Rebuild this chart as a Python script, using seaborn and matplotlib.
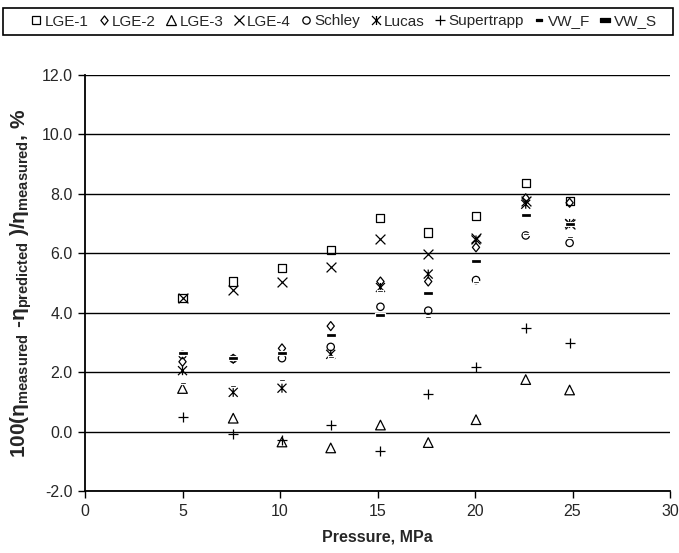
"""
Deviation of predicted viscosity from measured values vs pressure.
"""

import numpy as np
import matplotlib
matplotlib.use('Agg')
import matplotlib.pyplot as plt
from matplotlib.path import Path
from matplotlib.lines import Line2D
from matplotlib.patches import Rectangle
import seaborn as sns

sns.set_style('ticks')
plt.rcParams['font.family'] = ['Liberation Sans', 'DejaVu Sans']
plt.rcParams['mathtext.fontset'] = 'custom'
plt.rcParams['mathtext.rm'] = 'Liberation Sans'
plt.rcParams['mathtext.bf'] = 'Liberation Sans:bold'
plt.rcParams['mathtext.it'] = 'Liberation Sans:italic'

# Data
pressure = [5.0, 7.6, 10.1, 12.6, 15.15, 17.6, 20.05, 22.6, 24.85]
lge1 = [4.5, 5.05, 5.5, 6.1, 7.18, 6.7, 7.24, 8.35, 7.75]
lge2 = [2.35, 2.45, 2.8, 3.55, 5.05, 5.05, 6.2, 7.85, 7.7]
lge3 = [1.45, 0.45, -0.35, -0.55, 0.22, -0.37, 0.4, 1.75, 1.4]
lge4 = [4.5, 4.77, 5.05, 5.55, 6.48, 5.97, 6.5, 7.75, 7.0]
schley = [2.58, 2.45, 2.47, 2.85, 4.2, 4.07, 5.1, 6.6, 6.35]
lucas = [2.05, 1.32, 1.46, 2.6, 4.85, 5.3, 6.45, 7.65, 7.0]
supertrapp = [0.5, -0.08, -0.3, 0.22, -0.64, 1.26, 2.16, 3.5, 2.97]
vw_f = [1.63, 1.53, 1.75, 2.5, 4.74, 3.87, 5.05, 6.65, 6.55]
vw_s = [2.65, 2.47, 2.66, 3.25, 3.93, 4.65, 5.75, 7.3, 7.0]

series_names = ['LGE-1', 'LGE-2', 'LGE-3', 'LGE-4', 'Schley', 'Lucas',
                'Supertrapp', 'VW_F', 'VW_S']
series_values = [lge1, lge2, lge3, lge4, schley, lucas, supertrapp, vw_f, vw_s]

# Custom markers
asterisk = Path([(-1, -1), (1, 1), (-1, 1), (1, -1), (0, -1), (0, 1)],
                [Path.MOVETO, Path.LINETO, Path.MOVETO, Path.LINETO,
                 Path.MOVETO, Path.LINETO])
dash = Path([(-1, -0.33), (1, -0.33), (1, 0.33), (-1, 0.33), (-1, -0.33)],
            [Path.MOVETO, Path.LINETO, Path.LINETO, Path.LINETO, Path.CLOSEPOLY])
diamond = Path([(0, 1), (0.8, 0), (0, -1), (-0.8, 0), (0, 1)],
               [Path.MOVETO, Path.LINETO, Path.LINETO, Path.LINETO, Path.CLOSEPOLY])

# marker, size (points^2 for scatter), open?
STYLES = {
    'LGE-1': ('s', 34, True),
    'LGE-2': (diamond, 42, True),
    'LGE-3': ('^', 48, True),
    'LGE-4': ('x', 50, False),
    'Schley': ('o', 28, True),
    'Lucas': (asterisk, 42, True),
    'Supertrapp': ('+', 55, False),
    'VW_F': (dash, 20, False),
    'VW_S': (dash, 55, False),
}

fig = plt.figure(figsize=(6.79, 5.53), dpi=100)
ax = fig.add_axes([0.1252, 0.1121, 0.8616, 0.7523])

for name, vals in zip(series_names, series_values):
    marker, size, is_open = STYLES[name]
    if is_open:
        sns.scatterplot(x=pressure, y=vals, marker=marker, s=size, ax=ax,
                        facecolor='none', edgecolor='black', linewidth=0.9,
                        zorder=3)
    else:
        sns.scatterplot(x=pressure, y=vals, marker=marker, s=size, ax=ax,
                        color='black', linewidth=0.9, zorder=3)
    coll = ax.collections[-1]
    if is_open:
        coll.set_facecolor('none')
        coll.set_edgecolor('black')

ax.set_xlim(0, 30)
ax.set_ylim(-2, 12)
ax.set_xticks(np.arange(0, 31, 5))
ax.set_yticks(np.arange(-2, 12.1, 2))
ax.set_yticklabels([f'{v:.1f}' for v in np.arange(-2, 12.1, 2)])
ax.yaxis.grid(True, color='black', linewidth=1.0)
ax.set_axisbelow(True)
for side in ['top', 'right']:
    ax.spines[side].set_visible(False)
for side in ['left', 'bottom']:
    ax.spines[side].set_color('black')
    ax.spines[side].set_linewidth(1.3)
ax.tick_params(axis='both', labelsize=11.5, length=5, width=1, color='black',
               pad=4, direction='out')

ax.set_xlabel('Pressure, MPa', fontsize=11.5, fontweight='bold', labelpad=8)
ax.set_ylabel(r'100(η$_{\mathbf{measured}}$ -η$_{\mathbf{predicted}}$ )/η$_{\mathbf{measured}}$, %',
              fontsize=15, fontweight='bold', labelpad=5)

# Legend on top, inside a full-width box
handles = []
for name in series_names:
    marker, size, is_open = STYLES[name]
    ms = np.sqrt(size)
    if is_open:
        h = Line2D([], [], linestyle='', marker=marker, markersize=ms,
                   markerfacecolor='none', markeredgecolor='black',
                   markeredgewidth=0.9)
    else:
        h = Line2D([], [], linestyle='', marker=marker, markersize=ms,
                   color='black', markeredgewidth=0.9)
    handles.append(h)

fig.patches.append(Rectangle((3 / 679, 1 - 35 / 553), 670 / 679, 27 / 553,
                             transform=fig.transFigure, fill=False,
                             edgecolor='black', linewidth=1.2))
fig.legend(handles, series_names, loc='center',
           bbox_to_anchor=(343 / 679, 1 - 21.5 / 553), ncol=9, frameon=False,
           fontsize=11, handlelength=0.9, handletextpad=0.1,
           columnspacing=0.55, borderpad=0)

fig.savefig('out.png', dpi=100)
plt.close(fig)
